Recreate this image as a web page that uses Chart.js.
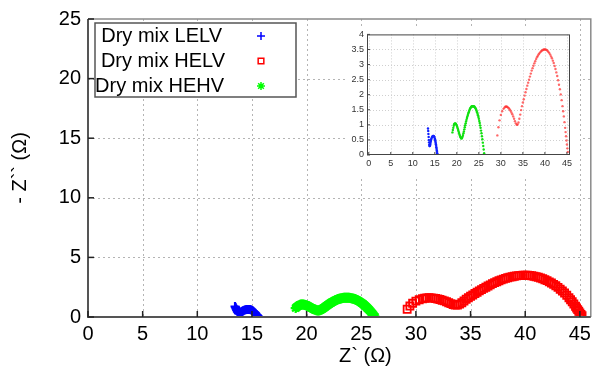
<!DOCTYPE html>
<html>
<head>
<meta charset="utf-8">
<script src="https://cdn.jsdelivr.net/npm/chart.js@4"></script>
<style>
  html, body { margin: 0; padding: 0; background: #fff; }
  #wrap { position: relative; width: 598px; height: 372px; }
  #main { position: absolute; left: 0; top: 0; }
  #inset { position: absolute; left: 348px; top: 26px; }
</style>
</head>
<body>
<div id="wrap">
  <canvas id="main" width="598" height="372"></canvas>
  <canvas id="inset" width="232" height="150"></canvas>
</div>
<script>
// --- Data (Z' real part, -Z'' imaginary part, ohm) ---
const seriesLabels = ['Dry mix LELV', 'Dry mix HELV', 'Dry mix HEHV'];

const lelvRe = [13.45, 13.5, 13.55, 13.6, 13.65, 13.7, 13.75, 13.8, 13.85, 13.9, 13.95, 14.0, 14.05, 14.1, 14.15,
  14.2, 14.3, 14.4, 14.5, 14.6, 14.7, 14.8, 14.9, 15.0, 15.05, 15.1, 15.15, 15.2, 15.25, 15.3,
  15.35, 15.4, 15.45, 15.5, 15.55, 15.6];
const lelvIm = [0.88, 0.8, 0.7, 0.6, 0.5, 0.42, 0.35, 0.3, 0.3, 0.32, 0.36, 0.4, 0.44, 0.47, 0.5,
  0.53, 0.57, 0.6, 0.62, 0.63, 0.63, 0.62, 0.6, 0.55, 0.52, 0.48, 0.44, 0.4, 0.36, 0.31,
  0.26, 0.21, 0.16, 0.11, 0.06, 0.02];

const helvRe = [29.2, 29.45, 29.7, 30.0, 30.3, 30.6, 30.8, 31.0, 31.2, 31.4,
  31.6, 31.8, 32.0, 32.2, 32.4, 32.6, 32.8, 33.0, 33.2, 33.4, 33.6, 33.8, 34.0, 34.2, 34.4,
  34.6, 34.8, 35.0, 35.2, 35.4, 35.6, 35.8, 36.0, 36.2, 36.4, 36.6, 36.8, 37.0, 37.2, 37.4,
  37.6, 37.8, 38.0, 38.2, 38.4, 38.6, 38.8, 39.0, 39.2, 39.4, 39.6, 39.8, 40.0, 40.2, 40.4,
  40.6, 40.8, 41.0, 41.2, 41.4, 41.6, 41.8, 42.0, 42.2, 42.4, 42.6, 42.8, 43.0, 43.2, 43.4,
  43.6, 43.8, 44.0, 44.15, 44.3, 44.45, 44.6, 44.7, 44.8, 44.9, 45.0, 45.1, 45.2];
const helvIm = [0.65, 0.92, 1.15, 1.33, 1.45, 1.53, 1.57, 1.6, 1.61, 1.6,
  1.58, 1.55, 1.51, 1.47, 1.41, 1.35, 1.28, 1.2, 1.12, 1.05, 1.0, 1.01, 1.08, 1.2, 1.34,
  1.49, 1.62, 1.74, 1.85, 1.97, 2.08, 2.19, 2.3, 2.4, 2.5, 2.6, 2.7, 2.8, 2.88, 2.96,
  3.04, 3.11, 3.18, 3.24, 3.29, 3.34, 3.38, 3.42, 3.45, 3.47, 3.49, 3.5, 3.5, 3.5, 3.48,
  3.46, 3.42, 3.38, 3.33, 3.27, 3.21, 3.13, 3.05, 2.95, 2.85, 2.74, 2.62, 2.48, 2.33, 2.18,
  2.01, 1.82, 1.62, 1.45, 1.28, 1.09, 0.9, 0.76, 0.62, 0.48, 0.35, 0.22, 0.1];

const hehvRe = [19.0, 19.1, 19.2, 19.3, 19.4, 19.5, 19.6, 19.7, 19.8, 19.9, 20.0, 20.1, 20.2, 20.3, 20.4,
  20.5, 20.6, 20.7, 20.8, 20.9, 21.0, 21.1, 21.2, 21.3, 21.4, 21.5, 21.6, 21.7, 21.8, 21.9,
  22.0, 22.1, 22.2, 22.3, 22.4, 22.5, 22.6, 22.7, 22.8, 22.9, 23.0, 23.1, 23.2, 23.3, 23.4,
  23.5, 23.6, 23.7, 23.8, 23.9, 24.0, 24.1, 24.2, 24.3, 24.4, 24.5, 24.6, 24.7, 24.8, 24.9,
  25.0, 25.1, 25.2, 25.3, 25.4, 25.5, 25.6, 25.7, 25.8, 25.9, 26.0, 26.1, 26.2, 26.25];
const hehvIm = [0.75, 0.83, 0.9, 0.97, 1.02, 1.04, 1.05, 1.04, 1.03, 1.0, 0.97, 0.93, 0.88, 0.83, 0.78,
  0.73, 0.68, 0.64, 0.6, 0.57, 0.55, 0.55, 0.57, 0.61, 0.66, 0.72, 0.78, 0.85, 0.92, 0.99,
  1.05, 1.11, 1.17, 1.23, 1.28, 1.33, 1.38, 1.42, 1.46, 1.5, 1.53, 1.56, 1.58, 1.6, 1.61,
  1.62, 1.62, 1.62, 1.62, 1.61, 1.6, 1.58, 1.56, 1.53, 1.5, 1.46, 1.42, 1.37, 1.32, 1.26,
  1.2, 1.13, 1.06, 0.98, 0.9, 0.81, 0.72, 0.62, 0.52, 0.41, 0.3, 0.18, 0.06, 0.0];

const mainXTicks = [0, 5, 10, 15, 20, 25, 30, 35, 40, 45];
const mainYTicks = [0, 5, 10, 15, 20, 25];
const insetXTicks = [0, 5, 10, 15, 20, 25, 30, 35, 40, 45];
const insetYTicks = [0, 0.5, 1, 1.5, 2, 2.5, 3, 3.5, 4];

const FONT = '"Liberation Sans", Arial, sans-serif';

function pts(re, im) {
  return re.map((x, i) => ({ x: x, y: im[i] }));
}
function setTicks(list) {
  return scale => { scale.ticks = list.map(v => ({ value: v })); };
}

// dotted grid, drawn from the scales
function drawGrid(chart, color, dash) {
  const { ctx, chartArea: a, scales } = chart;
  ctx.save();
  ctx.strokeStyle = color;
  ctx.lineWidth = 1;
  ctx.setLineDash(dash);
  scales.x.ticks.forEach(t => {
    const px = Math.round(scales.x.getPixelForValue(t.value)) + 0.5;
    if (px <= a.left + 1 || px >= a.right - 1) return;
    ctx.beginPath(); ctx.moveTo(px, a.top); ctx.lineTo(px, a.bottom); ctx.stroke();
  });
  scales.y.ticks.forEach(t => {
    const py = Math.round(scales.y.getPixelForValue(t.value)) + 0.5;
    if (py <= a.top + 1 || py >= a.bottom - 1) return;
    ctx.beginPath(); ctx.moveTo(a.left, py); ctx.lineTo(a.right, py); ctx.stroke();
  });
  ctx.restore();
}
// short tick marks pointing into the plot
function drawTickMarks(chart, color, width, len) {
  const { ctx, chartArea: a, scales } = chart;
  ctx.save();
  ctx.strokeStyle = color;
  ctx.lineWidth = width;
  scales.x.ticks.forEach(t => {
    const px = scales.x.getPixelForValue(t.value);
    ctx.beginPath(); ctx.moveTo(px, a.bottom); ctx.lineTo(px, a.bottom - len); ctx.stroke();
  });
  scales.y.ticks.forEach(t => {
    const py = scales.y.getPixelForValue(t.value);
    ctx.beginPath(); ctx.moveTo(a.left, py); ctx.lineTo(a.left + len, py); ctx.stroke();
  });
  ctx.restore();
}

const mainDeco = {
  id: 'mainDeco',
  beforeDatasetsDraw(chart) {
    drawGrid(chart, '#b4b4b4', [2, 3]);
  },
  afterDraw(chart) {
    const { ctx, chartArea: a } = chart;
    ctx.save();
    // frame
    ctx.strokeStyle = '#8a8a8a';
    ctx.lineWidth = 1.5;
    ctx.beginPath();
    ctx.moveTo(a.left, a.top); ctx.lineTo(a.right, a.top); ctx.lineTo(a.right, a.bottom);
    ctx.stroke();
    ctx.strokeStyle = '#555';
    ctx.lineWidth = 2;
    ctx.beginPath();
    ctx.moveTo(a.left, a.top); ctx.lineTo(a.left, a.bottom); ctx.lineTo(a.right, a.bottom);
    ctx.stroke();
    ctx.restore();
    drawTickMarks(chart, '#222', 1.5, 6);

    // legend box
    ctx.save();
    const lx = 95, ly = 23, lw = 201, lh = 74;
    ctx.fillStyle = '#fff';
    ctx.fillRect(lx, ly, lw, lh);
    ctx.strokeStyle = '#555';
    ctx.lineWidth = 1.5;
    ctx.strokeRect(lx, ly, lw, lh);
    ctx.font = '20px ' + FONT;
    ctx.textAlign = 'right';
    ctx.textBaseline = 'middle';
    const rows = [36, 61, 86];
    const textRight = [222, 225, 224];
    chart.data.datasets.forEach((ds, i) => {
      ctx.fillStyle = '#000';
      ctx.fillText(ds.label, textRight[i], rows[i]);
      ctx.strokeStyle = ds.borderColor;
      ctx.fillStyle = ds.backgroundColor;
      if (Chart.helpers && Chart.helpers.drawPoint) {
        Chart.helpers.drawPoint(ctx, { pointStyle: ds.pointStyle, radius: 4, rotation: 0, borderWidth: 1.3 }, 261, rows[i]);
      }
    });
    ctx.restore();

    // axis titles
    ctx.save();
    ctx.font = '20px ' + FONT;
    ctx.fillStyle = '#000';
    ctx.textAlign = 'center';
    ctx.textBaseline = 'middle';
    ctx.fillText('Z` (Ω)', (a.left + a.right) / 2 + 26, 356);
    ctx.translate(20, (a.top + a.bottom) / 2);
    ctx.rotate(-Math.PI / 2);
    ctx.fillText('- Z`` (Ω)', 0, 0);
    ctx.restore();
  }
};

new Chart(document.getElementById('main'), {
  type: 'scatter',
  data: {
    datasets: [
      { label: seriesLabels[0], data: pts(lelvRe, lelvIm), pointStyle: 'cross', pointRadius: 4.5,
        borderColor: '#0000ff', backgroundColor: '#0000ff', pointBorderWidth: 2.2 },
      { label: seriesLabels[1], data: pts(helvRe, helvIm), pointStyle: 'rect', pointRadius: 5,
        borderColor: '#ff0000', backgroundColor: 'rgba(0,0,0,0)', pointBorderWidth: 1.8 },
      { label: seriesLabels[2], data: pts(hehvRe, hehvIm), pointStyle: 'star', pointRadius: 5,
        borderColor: '#00ff00', backgroundColor: '#00ff00', pointBorderWidth: 2.2 }
    ]
  },
  options: {
    responsive: false,
    animation: false,
    layout: { padding: { top: 16, right: 4, left: 0, bottom: 0 } },
    plugins: { legend: { display: false }, tooltip: { enabled: false } },
    scales: {
      x: {
        type: 'linear', min: 0, max: 46,
        afterBuildTicks: setTicks(mainXTicks),
        afterFit: s => { s.height = 55; },
        grid: { display: false, drawTicks: false },
        border: { display: false },
        ticks: { padding: 5, color: '#000', font: { family: FONT, size: 20 }, maxRotation: 0, autoSkip: false }
      },
      y: {
        type: 'linear', min: 0, max: 25,
        afterBuildTicks: setTicks(mainYTicks),
        afterFit: s => { s.width = 88; },
        grid: { display: false, drawTicks: false },
        border: { display: false },
        ticks: { padding: 7, color: '#000', font: { family: FONT, size: 20 }, autoSkip: false }
      }
    }
  },
  plugins: [mainDeco]
});

// --- Inset ---
const insetDeco = {
  id: 'insetDeco',
  beforeDraw(chart) {
    const ctx = chart.ctx;
    ctx.save();
    ctx.fillStyle = '#fff';
    ctx.fillRect(0, 0, chart.width, chart.height);
    ctx.restore();
  },
  beforeDatasetsDraw(chart) {
    drawGrid(chart, '#cfcfcf', [1, 2]);
  },
  afterDraw(chart) {
    const { ctx, chartArea: a } = chart;
    ctx.save();
    ctx.strokeStyle = '#444';
    ctx.lineWidth = 1;
    ctx.strokeRect(a.left + 0.5, a.top + 0.5, a.right - a.left - 1, a.bottom - a.top - 1);
    ctx.restore();
    drawTickMarks(chart, '#444', 1, 3);
  }
};

new Chart(document.getElementById('inset'), {
  type: 'scatter',
  data: {
    datasets: [
      { data: pts(lelvRe, lelvIm), pointRadius: 1.2, pointBorderWidth: 0, backgroundColor: '#1020ff' },
      { data: pts(helvRe, helvIm), pointRadius: 1.2, pointBorderWidth: 0, backgroundColor: 'rgba(255,40,40,0.7)' },
      { data: pts(hehvRe, hehvIm), pointRadius: 1.2, pointBorderWidth: 0, backgroundColor: '#10e010' }
    ]
  },
  options: {
    responsive: false,
    animation: false,
    layout: { padding: { top: 8, right: 10, left: 0, bottom: 0 } },
    plugins: { legend: { display: false }, tooltip: { enabled: false } },
    scales: {
      x: {
        type: 'linear', min: -0.4, max: 45.7,
        afterBuildTicks: setTicks(insetXTicks),
        afterFit: s => { s.height = 21; },
        grid: { display: false, drawTicks: false },
        border: { display: false },
        ticks: { padding: 3, color: '#333', font: { family: FONT, size: 9 }, maxRotation: 0, autoSkip: false }
      },
      y: {
        type: 'linear', min: 0, max: 4,
        afterBuildTicks: setTicks(insetYTicks),
        afterFit: s => { s.width = 19; },
        grid: { display: false, drawTicks: false },
        border: { display: false },
        ticks: { padding: 3, color: '#333', font: { family: FONT, size: 9 }, autoSkip: false,
          callback: v => String(v) }
      }
    }
  },
  plugins: [insetDeco]
});
</script>
</body>
</html>
